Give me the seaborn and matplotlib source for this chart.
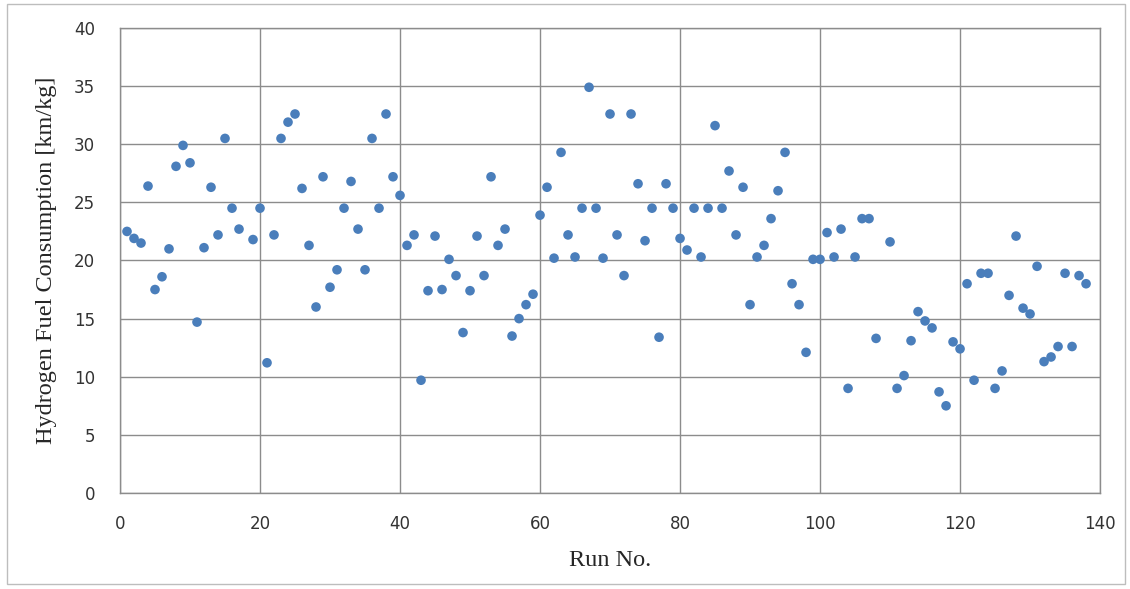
"""Scatter of hydrogen fuel consumption per run, Excel-style."""
import matplotlib
matplotlib.use('Agg')
import matplotlib.pyplot as plt
from matplotlib.patches import Rectangle
import seaborn as sns
import pandas as pd

# Data (runs 18 and 109 not plotted)
runs = [1, 2, 3, 4, 5, 6, 7, 8, 9, 10, 11, 12, 13, 14, 15, 16, 17, 19, 20,
        21, 22, 23, 24, 25, 26, 27, 28, 29, 30, 31, 32, 33, 34, 35, 36, 37, 38, 39, 40,
        41, 42, 43, 44, 45, 46, 47, 48, 49, 50, 51, 52, 53, 54, 55, 56, 57, 58, 59, 60,
        61, 62, 63, 64, 65, 66, 67, 68, 69, 70, 71, 72, 73, 74, 75, 76, 77, 78, 79, 80,
        81, 82, 83, 84, 85, 86, 87, 88, 89, 90, 91, 92, 93, 94, 95, 96, 97, 98, 99, 100,
        101, 102, 103, 104, 105, 106, 107, 108, 110, 111, 112, 113, 114, 115, 116, 117,
        118, 119, 120, 121, 122, 123, 124, 125, 126, 127, 128, 129, 130, 131, 132, 133,
        134, 135, 136, 137, 138]
consumption = [22.5, 21.9, 21.5, 26.4, 17.5, 18.6, 21.0, 28.1, 29.9, 28.4, 14.7, 21.1,
               26.3, 22.2, 30.5, 24.5, 22.7, 21.8, 24.5,
               11.2, 22.2, 30.5, 31.9, 32.6, 26.2, 21.3, 16.0, 27.2, 17.7, 19.2, 24.5,
               26.8, 22.7, 19.2, 30.5, 24.5, 32.6, 27.2, 25.6,
               21.3, 22.2, 9.7, 17.4, 22.1, 17.5, 20.1, 18.7, 13.8, 17.4, 22.1, 18.7,
               27.2, 21.3, 22.7, 13.5, 15.0, 16.2, 17.1, 23.9,
               26.3, 20.2, 29.3, 22.2, 20.3, 24.5, 34.9, 24.5, 20.2, 32.6, 22.2, 18.7,
               32.6, 26.6, 21.7, 24.5, 13.4, 26.6, 24.5, 21.9,
               20.9, 24.5, 20.3, 24.5, 31.6, 24.5, 27.7, 22.2, 26.3, 16.2, 20.3, 21.3,
               23.6, 26.0, 29.3, 18.0, 16.2, 12.1, 20.1, 20.1,
               22.4, 20.3, 22.7, 9.0, 20.3, 23.6, 23.6, 13.3, 21.6, 9.0, 10.1, 13.1,
               15.6, 14.8, 14.2, 8.7,
               7.5, 13.0, 12.4, 18.0, 9.7, 18.9, 18.9, 9.0, 10.5, 17.0, 22.1, 15.9,
               15.4, 19.5, 11.3, 11.7,
               12.6, 18.9, 12.6, 18.7, 18.0]

x_ticks = [0, 20, 40, 60, 80, 100, 120, 140]
y_ticks = [0, 5, 10, 15, 20, 25, 30, 35, 40]

df = pd.DataFrame({'Run No.': runs, 'Consumption': consumption})

sns.set_theme(style='whitegrid')
plt.rcParams['font.family'] = ['DejaVu Sans']

grid_color = '#8C8C8C'
fig = plt.figure(figsize=(11.3, 5.89), dpi=100)
ax = fig.add_axes([0.1062, 0.163, 0.8673, 0.7895])

sns.scatterplot(data=df, x='Run No.', y='Consumption', color='#4A7EBB',
                s=48, edgecolor='none', ax=ax)

ax.set_xlim(0, 140)
ax.set_ylim(0, 40)
ax.set_xticks(x_ticks)
ax.set_yticks(y_ticks)
ax.grid(True, color=grid_color, linewidth=1.0)
for sp in ax.spines.values():
    sp.set_color(grid_color)
    sp.set_linewidth(1.0)
ax.tick_params(axis='both', length=0, labelsize=12, colors='#333333')
ax.tick_params(axis='x', pad=16)
ax.tick_params(axis='y', pad=18)

ax.set_xlabel('Run No.', fontsize=17.5, family=['Liberation Serif'], labelpad=12)
ax.set_ylabel('Hydrogen Fuel Consumption [km/kg]', fontsize=17.5,
              family=['Liberation Serif'], labelpad=12)

# light outer border like the exported chart
fig.patches.append(Rectangle((7 / 1130, 5 / 589), 1118 / 1130, 580 / 589,
                             transform=fig.transFigure, fill=False,
                             edgecolor='#BDBDBD', linewidth=1.0))

fig.savefig('out.png', dpi=100)
plt.close(fig)
